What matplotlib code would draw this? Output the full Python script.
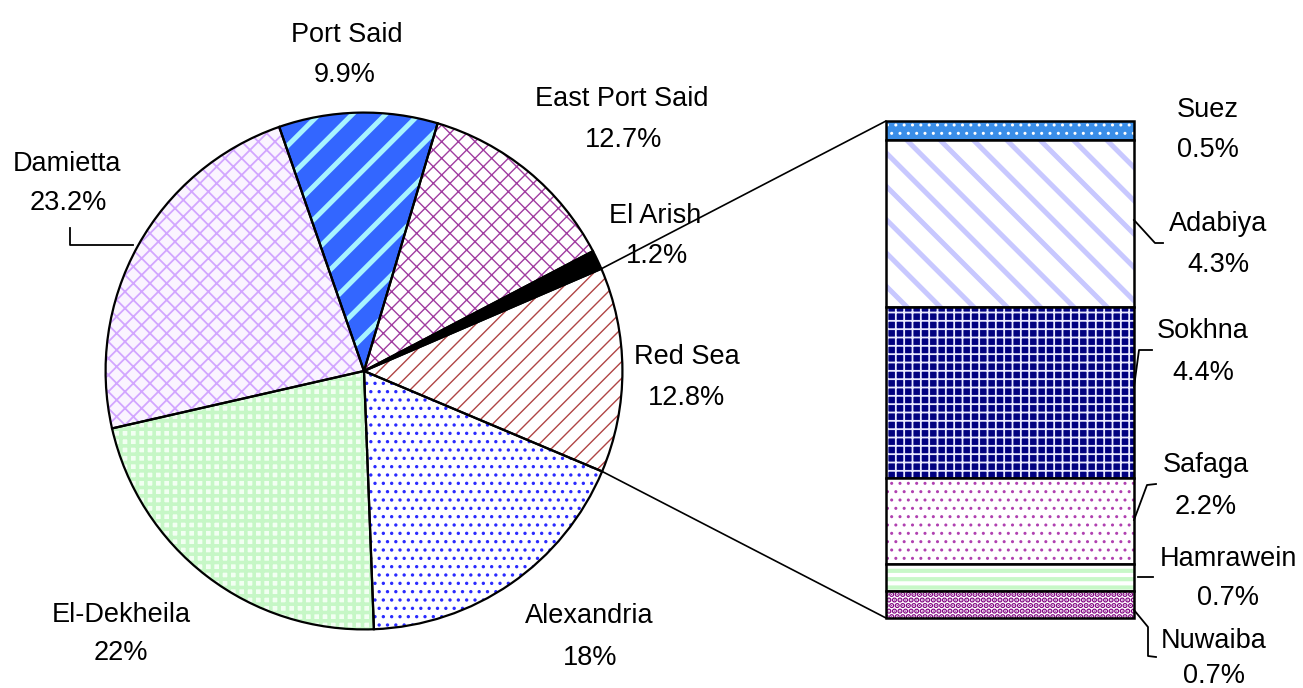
import numpy as np
import matplotlib
matplotlib.use("Agg")
import matplotlib.pyplot as plt
from matplotlib.patches import ConnectionPatch

# ---------------- data ----------------
pie_labels = ["El-Dekheila", "Damietta", "Port Said", "East Port Said", "El Arish", "Red Sea", "Alexandria"]
pie_values = [22.0, 23.2, 9.9, 12.7, 1.2, 12.8, 18.0]
pie_text = ["22%", "23.2%", "9.9%", "12.7%", "1.2%", "12.8%", "18%"]

bar_labels = ["Suez", "Adabiya", "Sokhna", "Safaga", "Hamrawein", "Nuwaiba"]
bar_values = [0.5, 4.3, 4.4, 2.2, 0.7, 0.7]
bar_text = ["0.5%", "4.3%", "4.4%", "2.2%", "0.7%", "0.7%"]

# ---------------- styles ----------------
W, H = 1303, 688
plt.rcParams['font.family'] = ['Liberation Sans', 'DejaVu Sans']
FS = 19.5

pie_style = {
    "El-Dekheila":    dict(face="#f2fff2", hatch="++", hc="#c6f7c6", hlw=2.6),
    "Damietta":       dict(face="#faf4ff", hatch="xx", hc="#d2a6ff", hlw=1.3),
    "Port Said":      dict(face="#3366ff", hatch="/",  hc="#a8f4ff", hlw=3.6),
    "East Port Said": dict(face="white",   hatch="xx", hc="#a03ca0", hlw=1.0),
    "El Arish":       dict(face="black",   hatch=None, hc="black",   hlw=1.0),
    "Red Sea":        dict(face="white",   hatch="//", hc="#b04545", hlw=1.0),
    "Alexandria":     dict(face="white",   hatch="..", hc="#2a2aff", hlw=1.2),
}
bar_style = {
    "Suez":      dict(face="#3a8ee8", hatch="..",  hc="white",   hlw=1.0),
    "Adabiya":   dict(face="white",   hatch="\\",  hc="#c8c8ff", hlw=3.6),
    "Sokhna":    dict(face="#000080", hatch="++",  hc="#e8e8ff", hlw=1.3),
    "Safaga":    dict(face="white",   hatch="..",  hc="#b040b0", hlw=1.0),
    "Hamrawein": dict(face="white",   hatch="--",  hc="#c8f8c8", hlw=3.0),
    "Nuwaiba":   dict(face="white",   hatch="...", hc="#800080", hlw=2.8),
}

def fig_rect(x0, y0, x1, y1):
    return [x0 / W, 1 - y1 / H, (x1 - x0) / W, (y1 - y0) / H]

fig = plt.figure(figsize=(W / 100, H / 100), dpi=100)
fig.patch.set_facecolor("white")

# ---------------- pie ----------------
cx, cy, r = 364, 371, 261
ax_pie = fig.add_axes(fig_rect(cx - r, cy - r, cx + r, cy + r))
ax_pie.set_aspect("equal")
ax_pie.axis("off")

START = -87.8
wedges, _ = ax_pie.pie(pie_values, startangle=START, counterclock=False, radius=1,
                       center=(0, 0), wedgeprops=dict(linewidth=0), frame=False)
for w, lab in zip(wedges, pie_labels):
    s = pie_style[lab]
    w.set_facecolor(s["face"])
    w.set_edgecolor(s["hc"])
    w.set_linewidth(0)
    if s["hatch"]:
        w.set_hatch(s["hatch"])
        if hasattr(w, "set_hatch_linewidth"):
            w.set_hatch_linewidth(s["hlw"])
outl, _ = ax_pie.pie(pie_values, startangle=START, counterclock=False, radius=1,
                     center=(0, 0), frame=False,
                     wedgeprops=dict(fill=False, edgecolor="black", linewidth=1.6))
ax_pie.set_xlim(-1.01, 1.01)
ax_pie.set_ylim(-1.01, 1.01)

# ---------------- bar ----------------
bx0, by0, bx1, by1 = 886, 121, 1134, 618
ax_bar = fig.add_axes(fig_rect(bx0, by0, bx1, by1))
total = sum(bar_values)
ax_bar.set_xlim(-0.5, 0.5)
ax_bar.set_ylim(0, total)
ax_bar.axis("off")
tops = total - np.concatenate([[0], np.cumsum(bar_values)[:-1]])
bottoms = tops - np.array(bar_values)
for lab, v, b in zip(bar_labels, bar_values, bottoms):
    s = bar_style[lab]
    rect = ax_bar.bar(0, v, bottom=b, width=1.0, color=s["face"], edgecolor=s["hc"],
                      linewidth=0, hatch=s["hatch"])[0]
    if hasattr(rect, "set_hatch_linewidth"):
        rect.set_hatch_linewidth(s["hlw"])
    ax_bar.bar(0, v, bottom=b, width=1.0, fill=False, edgecolor="black", linewidth=1.8,
               clip_on=False)

# ---------------- connectors ----------------
other = wedges[pie_labels.index("Red Sea")]
for ang, ybar in [(other.theta2, total), (other.theta1, 0)]:
    p = (np.cos(np.radians(ang)), np.sin(np.radians(ang)))
    con = ConnectionPatch(xyA=p, coordsA=ax_pie.transData, xyB=(-0.5, ybar),
                          coordsB=ax_bar.transData, color="black", linewidth=1.2)
    fig.add_artist(con)

# ---------------- overlay for labels ----------------
ov = fig.add_axes([0, 0, 1, 1])
ov.set_xlim(0, W)
ov.set_ylim(H, 0)
ov.axis("off")
ov.patch.set_alpha(0)

pie_pos = {
    "Port Said": ((347, 32), (345, 72)),
    "East Port Said": ((622, 96), (624, 137)),
    "Damietta": ((67, 161), (68, 200)),
    "El Arish": ((655, 213), (657, 253)),
    "Red Sea": ((687, 354), (687, 395)),
    "El-Dekheila": ((121, 612), (121, 650)),
    "Alexandria": ((589, 613), (590, 655)),
}
bar_pos = {
    "Suez": ((1208, 107), (1208, 147)),
    "Adabiya": ((1218, 221), (1218, 262)),
    "Sokhna": ((1203, 328), (1203, 370)),
    "Safaga": ((1206, 462), (1206, 504)),
    "Hamrawein": ((1228, 556), (1228, 595)),
    "Nuwaiba": ((1214, 638), (1214, 673)),
}

def put(x, y, s):
    ov.text(x, y + 10, s, ha="center", va="baseline", fontsize=FS, color="black")

for lab, pct in zip(pie_labels, pie_text):
    (x1, y1), (x2, y2) = pie_pos[lab]
    put(x1, y1, lab)
    put(x2, y2, pct)
for lab, pct in zip(bar_labels, bar_text):
    (x1, y1), (x2, y2) = bar_pos[lab]
    put(x1, y1, lab)
    put(x2, y2, pct)

leaders = [
    [(70, 228), (70, 245), (133, 245)],
    [(1134, 220), (1155, 243), (1163, 243)],
    [(1134, 387), (1139, 350), (1152, 350)],
    [(1134, 520), (1147, 485), (1156, 484)],
    [(1138, 577), (1153, 577)],
    [(1134, 610), (1148, 627), (1148, 656), (1156, 657)],
]
for pts in leaders:
    xs, ys = zip(*pts)
    ov.plot(xs, ys, color="black", linewidth=1.3)

fig.savefig("out.png", dpi=100, facecolor="white")
